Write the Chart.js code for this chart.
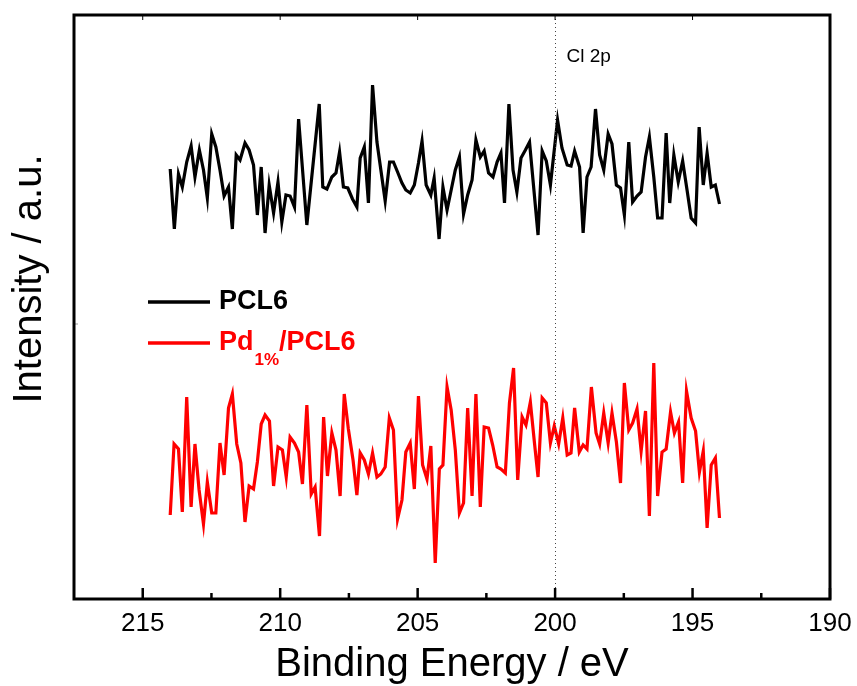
<!DOCTYPE html>
<html>
<head>
<meta charset="utf-8">
<title>Cl 2p XPS</title>
<script src="https://cdn.jsdelivr.net/npm/chart.js@4.4.1/dist/chart.umd.min.js"></script>
<style>
    body { margin: 0; background: #fff; }
    #wrap { width: 857px; height: 686px; }
</style>
</head>
<body>
<div id="wrap"><canvas id="xpsChart" width="857" height="686"></canvas></div>
<script>
// Binding energy (eV) and intensity (a.u.)
const pclEnergy = [214.00, 213.85, 213.70, 213.56, 213.40, 213.24, 213.10, 212.94, 212.79, 212.65,
    212.49, 212.34, 212.19, 212.04, 211.88, 211.74, 211.60, 211.46, 211.28, 211.13,
    210.97, 210.83, 210.69, 210.55, 210.40, 210.24, 210.08, 209.94, 209.79, 209.64,
    209.48, 209.33, 209.03, 208.58, 208.45, 208.30, 208.12, 207.97, 207.84, 207.70,
    207.54, 207.37, 207.21, 207.09, 206.94, 206.79, 206.64, 206.48, 206.18, 206.02,
    205.88, 205.73, 205.57, 205.43, 205.27, 205.12, 204.97, 204.84, 204.69, 204.52,
    204.40, 204.22, 204.08, 203.93, 203.78, 203.63, 203.48, 203.33, 203.18, 203.02,
    202.88, 202.72, 202.58, 202.42, 202.26, 202.11, 201.97, 201.84, 201.68, 201.53,
    201.39, 201.24, 201.08, 200.93, 200.62, 200.47, 200.32, 200.17, 199.91, 199.75,
    199.56, 199.42, 199.29, 199.11, 198.98, 198.84, 198.69, 198.53, 198.38, 198.23,
    198.07, 197.93, 197.77, 197.62, 197.48, 197.32, 197.18, 197.02, 196.87, 196.71,
    196.57, 196.41, 196.27, 196.11, 195.96, 195.83, 195.68, 195.52, 195.36, 195.20,
    195.05, 194.89, 194.76, 194.61, 194.47, 194.32, 194.17, 194.02];
const pclIntensity = [430, 370, 425, 412, 437, 453, 422, 449, 429, 401,
    465, 452, 429, 403, 412, 370, 444, 439, 456, 449,
    434, 384, 432, 366, 414, 386, 417, 377, 404, 403,
    392, 480, 374, 495, 412, 410, 422, 426, 447, 412,
    411, 400, 392, 441, 452, 396, 514, 457, 398, 437,
    437, 427, 416, 409, 406, 414, 436, 458, 414, 404,
    421, 360, 412, 389, 409, 429, 442, 385, 404, 419,
    459, 442, 448, 426, 422, 437, 446, 396, 495, 429,
    407, 441, 449, 457, 364, 448, 438, 414, 479, 451,
    434, 433, 448, 432, 366, 422, 432, 490, 444, 429,
    465, 455, 414, 411, 384, 457, 397, 403, 407, 442,
    462, 422, 381, 381, 466, 396, 444, 417, 438, 409,
    381, 376, 472, 414, 446, 412, 414, 395];

const pdEnergy = [214.00, 213.86, 213.70, 213.56, 213.40, 213.24, 213.10, 212.95, 212.79, 212.65,
    212.49, 212.34, 212.19, 212.04, 211.88, 211.74, 211.58, 211.43, 211.28, 211.13,
    210.97, 210.83, 210.69, 210.55, 210.39, 210.24, 210.08, 209.92, 209.78, 209.64,
    209.48, 209.33, 209.19, 209.03, 208.87, 208.73, 208.57, 208.42, 208.28, 208.12,
    207.97, 207.82, 207.67, 207.52, 207.35, 207.21, 207.09, 206.94, 206.79, 206.64,
    206.48, 206.34, 206.18, 206.03, 205.88, 205.73, 205.57, 205.43, 205.27, 205.12,
    204.97, 204.82, 204.66, 204.52, 204.36, 204.21, 204.08, 203.93, 203.78, 203.63,
    203.48, 203.33, 203.18, 203.02, 202.88, 202.72, 202.58, 202.42, 202.27, 202.11,
    201.97, 201.81, 201.66, 201.51, 201.36, 201.20, 201.06, 200.90, 200.75, 200.62,
    200.47, 200.32, 200.17, 200.03, 199.87, 199.72, 199.56, 199.42, 199.29, 199.12,
    198.98, 198.84, 198.68, 198.51, 198.38, 198.23, 198.07, 197.93, 197.77, 197.62,
    197.48, 197.32, 197.18, 197.02, 196.87, 196.71, 196.57, 196.41, 196.27, 196.11,
    195.96, 195.80, 195.66, 195.51, 195.36, 195.22, 195.05, 194.89, 194.75, 194.61,
    194.47, 194.32, 194.17, 194.02];
const pdIntensity = [84, 155, 150, 87, 202, 92, 155, 109, 75, 117,
    86, 86, 156, 124, 191, 205, 155, 136, 77, 113,
    110, 137, 175, 184, 178, 113, 152, 149, 122, 162,
    156, 147, 115, 194, 105, 112, 63, 182, 123, 166,
    149, 103, 205, 170, 139, 104, 146, 139, 125, 146,
    122, 125, 132, 181, 169, 80, 99, 147, 156, 110,
    203, 134, 120, 153, 36, 130, 134, 212, 189, 149,
    86, 96, 191, 103, 205, 92, 172, 171, 154, 132,
    130, 126, 196, 231, 119, 182, 174, 197, 156, 122,
    201, 196, 156, 173, 155, 181, 144, 146, 191, 147,
    154, 150, 212, 166, 155, 186, 156, 186, 157, 116,
    216, 169, 176, 190, 148, 188, 83, 236, 103, 147,
    150, 187, 166, 177, 116, 208, 181, 168, 127, 148,
    71, 134, 141, 81];

const xTicks = [215, 210, 205, 200, 195, 190];
const minorTicks = [212.5, 207.5, 202.5, 197.5, 192.5];
const markerEnergy = 200;
const markerLabel = 'Cl 2p';
const yTitle = 'Intensity / a.u.';

const FONT = '"Liberation Sans", Arial, Helvetica, sans-serif';

function toPoints(xs, ys) {
    return xs.map((x, i) => ({ x: x, y: ys[i] }));
}

// Frame, inward ticks, Cl 2p marker, y title and legend
const decorPlugin = {
    id: 'decor',
    afterDatasetsDraw(chart) {
        const ctx = chart.ctx;
        const area = chart.chartArea;
        const xs = chart.scales.x;
        ctx.save();

        // dotted marker line
        const mx = Math.round(xs.getPixelForValue(markerEnergy)) + 0.5;
        ctx.strokeStyle = '#444';
        ctx.lineWidth = 1;
        ctx.setLineDash([1, 3]);
        ctx.beginPath();
        ctx.moveTo(mx, area.top);
        ctx.lineTo(mx, area.bottom);
        ctx.stroke();
        ctx.setLineDash([]);

        ctx.fillStyle = '#000';
        ctx.font = '19px ' + FONT;
        ctx.textBaseline = 'middle';
        ctx.textAlign = 'left';
        ctx.fillText(markerLabel, mx + 11, 57);

        // ticks
        ctx.strokeStyle = '#000';
        ctx.lineWidth = 2.5;
        xTicks.forEach(v => {
            const px = xs.getPixelForValue(v);
            ctx.beginPath();
            ctx.moveTo(px, area.bottom);
            ctx.lineTo(px, area.bottom - 11);
            ctx.stroke();
        });
        minorTicks.forEach(v => {
            const px = xs.getPixelForValue(v);
            ctx.beginPath();
            ctx.moveTo(px, area.bottom);
            ctx.lineTo(px, area.bottom - 6);
            ctx.stroke();
        });
        ctx.lineWidth = 1;
        xTicks.forEach(v => {
            const px = xs.getPixelForValue(v);
            ctx.beginPath();
            ctx.moveTo(px, area.top);
            ctx.lineTo(px, area.top + 5);
            ctx.stroke();
        });
        ctx.beginPath();
        ctx.moveTo(area.left, 324);
        ctx.lineTo(area.left + 4, 324);
        ctx.strokeStyle = '#999';
        ctx.stroke();

        // frame
        ctx.strokeStyle = '#000';
        ctx.lineWidth = 3;
        ctx.strokeRect(area.left, area.top, area.right - area.left, area.bottom - area.top);

        // y title
        ctx.save();
        ctx.translate(30, 279);
        ctx.rotate(-Math.PI / 2);
        ctx.textAlign = 'center';
        ctx.fillStyle = '#000';
        ctx.font = '40px ' + FONT;
        ctx.fillText(yTitle, 0, 0);
        ctx.restore();

        // legend
        ctx.lineWidth = 3.5;
        ctx.strokeStyle = '#000';
        ctx.beginPath();
        ctx.moveTo(148, 302);
        ctx.lineTo(210, 302);
        ctx.stroke();
        ctx.font = 'bold 27px ' + FONT;
        ctx.fillStyle = '#000';
        ctx.fillText('PCL6', 219, 302);

        ctx.strokeStyle = '#ff0000';
        ctx.beginPath();
        ctx.moveTo(148, 343);
        ctx.lineTo(210, 343);
        ctx.stroke();
        ctx.fillStyle = '#ff0000';
        let tx = 219;
        ctx.fillText('Pd', tx, 343);
        tx += ctx.measureText('Pd').width + 1;
        ctx.font = 'bold 17px ' + FONT;
        ctx.fillText('1%', tx, 360);
        tx += ctx.measureText('1%').width;
        ctx.font = 'bold 27px ' + FONT;
        ctx.fillText('/PCL6', tx, 343);

        ctx.restore();
    }
};

const chart = new Chart(document.getElementById('xpsChart'), {
    type: 'line',
    data: {
        datasets: [{
            label: 'PCL6',
            data: toPoints(pclEnergy, pclIntensity),
            borderColor: '#000000',
            borderWidth: 3.2,
            pointRadius: 0,
            tension: 0
        }, {
            label: 'Pd1%/PCL6',
            data: toPoints(pdEnergy, pdIntensity),
            borderColor: '#ff0000',
            borderWidth: 3.2,
            pointRadius: 0,
            tension: 0
        }]
    },
    options: {
        responsive: false,
        animation: false,
        devicePixelRatio: 1,
        layout: {
            padding: { top: 15, right: 27, left: 0, bottom: 0 }
        },
        plugins: {
            legend: { display: false },
            tooltip: { enabled: false }
        },
        scales: {
            x: {
                type: 'linear',
                reverse: true,
                min: 190,
                max: 217.5,
                grid: { display: false, drawTicks: false },
                border: { display: false },
                ticks: {
                    stepSize: 5,
                    includeBounds: false,
                    padding: 9,
                    color: '#000',
                    font: { family: FONT, size: 26 },
                    maxRotation: 0
                },
                title: {
                    display: true,
                    text: 'Binding Energy / eV',
                    color: '#000',
                    font: { family: FONT, size: 40 },
                    padding: { top: 0, bottom: -3 }
                },
                afterFit: function(scale) {
                    scale.height = 87;
                    // keep the plot edge at 190 eV fixed, labels may overhang
                    scale.paddingLeft = 0;
                    scale.paddingRight = 0;
                }
            },
            y: {
                min: 0,
                max: 584,
                grid: { display: false },
                border: { display: false },
                ticks: { display: false },
                title: { display: false },
                afterFit: function(scale) {
                    scale.width = 74;
                }
            }
        }
    },
    plugins: [decorPlugin]
});
</script>
</body>
</html>
